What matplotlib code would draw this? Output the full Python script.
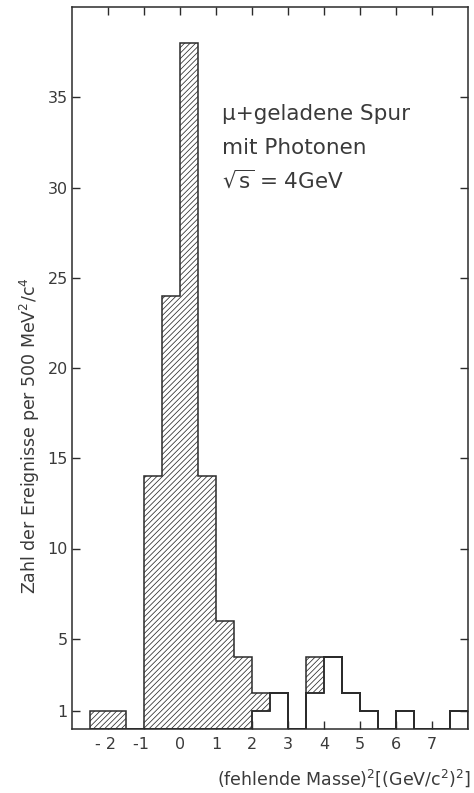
import numpy as np
import matplotlib
matplotlib.use("Agg")
import matplotlib.pyplot as plt

# ---- data -------------------------------------------------------------
bin_edges = [-2.5, -2.0, -1.5, -1.0, -0.5, 0.0, 0.5, 1.0, 1.5, 2.0, 2.5,
             3.0, 3.5, 4.0, 4.5, 5.0, 5.5, 6.0, 6.5, 7.0, 7.5, 8.0]
hatched_counts = [1, 1, 0, 14, 24, 38, 14, 6, 4, 1, 0,
                  0, 2, 0, 0, 0, 0, 0, 0, 0, 0]
open_counts = [0, 0, 0, 0, 0, 0, 0, 0, 0, 1, 2,
               0, 2, 4, 2, 1, 0, 1, 0, 0, 1]
x_ticks = [-2, -1, 0, 1, 2, 3, 4, 5, 6, 7]
x_tick_labels = ["- 2 ", "-1 ", "0", "1", "2", "3", "4", "5", "6", "7"]
y_ticks = [1, 5, 10, 15, 20, 25, 30, 35]
y_tick_labels = ["1", "5", "10", "15", "20", "25", "30", "35"]
# -----------------------------------------------------------------------

plt.rcParams["font.family"] = ["DejaVu Sans"]
plt.rcParams["hatch.linewidth"] = 0.55
plt.rcParams["axes.unicode_minus"] = False

ink = "#2b2b2b"
txt = "#3a3a3a"

W, H = 474, 793
fig = plt.figure(figsize=(W / 100, H / 100), dpi=100)
fig.patch.set_facecolor("white")
ax = fig.add_axes([72 / W, 64 / H, 396 / W, 722 / H])

edges = np.array(bin_edges)
hat = np.array(hatched_counts)
opn = np.array(open_counts)
total = hat + opn

# hatched part stacked on top of the open part
ax.stairs(total, edges, baseline=opn, fill=True, facecolor="white",
          edgecolor=ink, hatch="//////", linewidth=1.1, zorder=2)
# open part outline
ax.stairs(opn, edges, baseline=0, fill=False, color=ink, linewidth=1.1,
          zorder=3)

ax.set_xlim(-3, 8)
ax.set_ylim(0, 40)

ax.set_xticks(x_ticks)
ax.set_xticklabels(x_tick_labels)
ax.set_yticks(y_ticks)
ax.set_yticklabels(y_tick_labels)

ax.tick_params(axis="both", direction="in", length=6, width=1.0,
               colors=ink, labelcolor=txt, labelsize=11.5,
               top=True, right=True)
ax.tick_params(axis="x", pad=6)
ax.tick_params(axis="y", pad=3)

for s in ax.spines.values():
    s.set_color(ink)
    s.set_linewidth(1.1)

# axis labels
fig.text(471 / W, 1 - 778 / H,
         r"(fehlende Masse)$^2\left[(\mathrm{GeV/c}^2)^2\right]$",
         ha="right", va="center", fontsize=12.5, color=txt)
fig.text(30 / W, 1 - 436 / H,
         r"Zahl der Ereignisse per 500 MeV$^2$/c$^4$",
         rotation=90, ha="center", va="center", fontsize=12.5, color=txt)

# annotation
fig.text(222 / W, 1 - 120 / H, "\u03bc+geladene Spur", fontsize=15.5,
         color=txt, va="baseline", ha="left")
fig.text(222 / W, 1 - 154 / H, "mit Photonen", fontsize=15.5,
         color=txt, va="baseline", ha="left")
fig.text(222 / W, 1 - 188 / H, r"$\sqrt{\mathrm{s}}$ = 4GeV", fontsize=15.5,
         color=txt, va="baseline", ha="left")

fig.savefig("out.png", dpi=100, facecolor="white")
